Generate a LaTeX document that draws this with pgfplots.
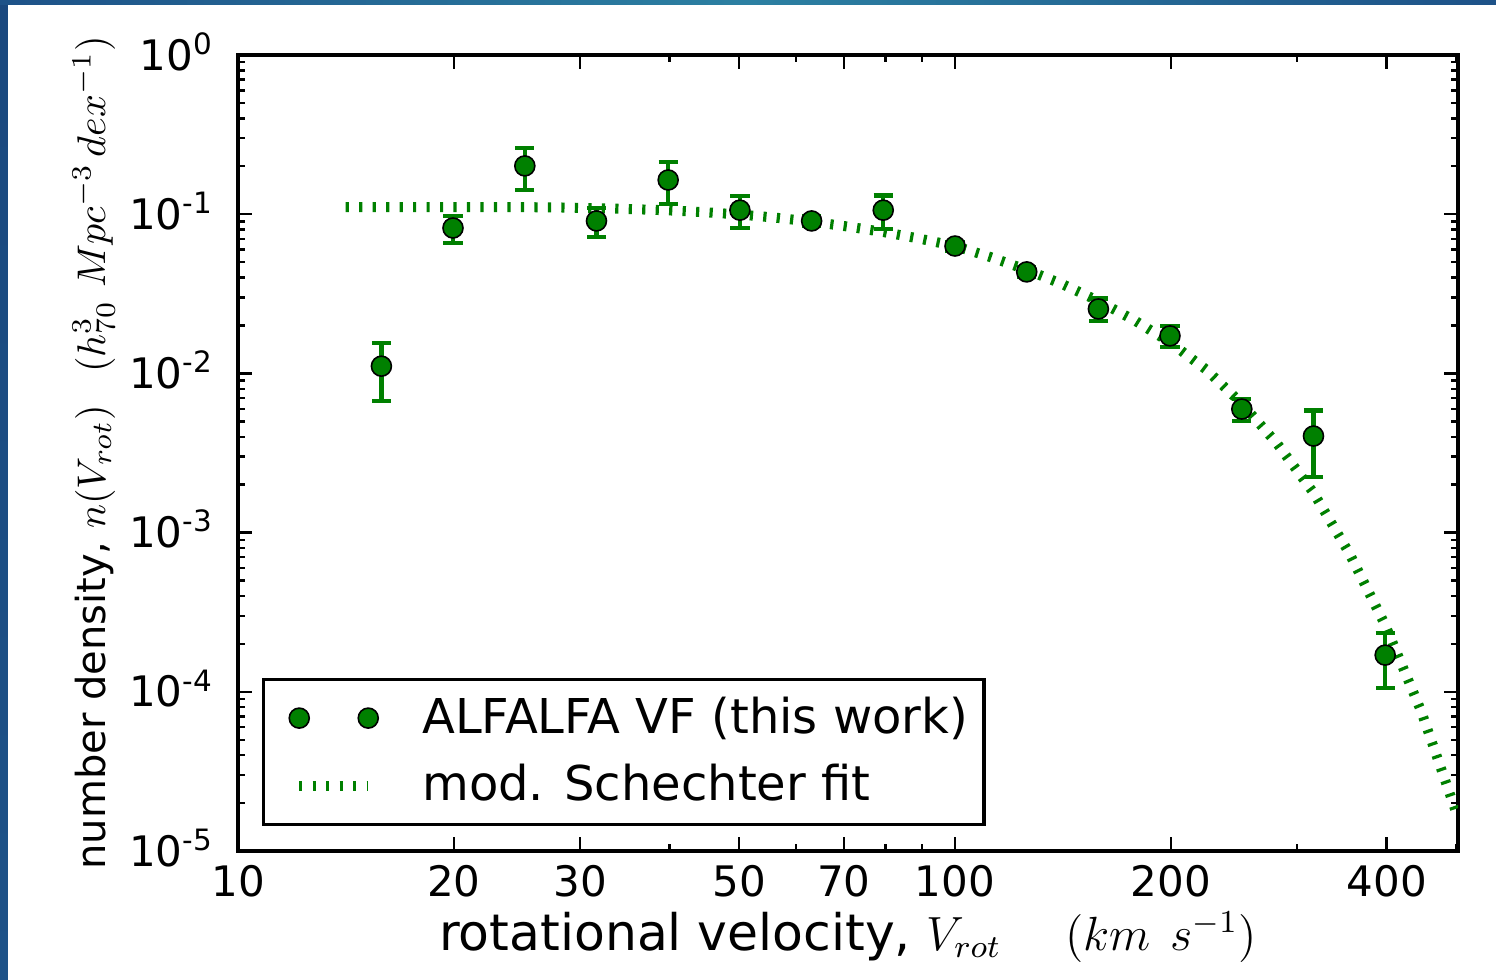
\documentclass[border=0pt]{standalone}
\usepackage[no-math]{fontspec}
\setmainfont{DejaVu Sans}
\usepackage{pgfplots}
\pgfplotsset{compat=1.18}
\definecolor{mygreen}{RGB}{0,128,0}
\definecolor{slideblue}{RGB}{30,82,136}
\definecolor{slidedark}{RGB}{26,72,126}
\definecolor{slideteal}{RGB}{44,128,162}

\begin{document}
\begin{tikzpicture}
\path[use as bounding box] (0,0) rectangle (374pt,245pt);
% slide background behind the figure
\shade[top color=slidedark, bottom color=slideblue] (0,0) rectangle (2pt,245pt);
\shade[left color=slideblue, right color=slideblue, middle color=slideteal] (0,243.75pt) rectangle (374pt,245pt);
\fill[white] (2pt,0) rectangle (374pt,243.75pt);

\begin{axis}[
    at={(59.5pt,32.25pt)}, anchor=south west,
    scale only axis, width=305pt, height=199pt,
    xmode=log, ymode=log,
    xmin=10, xmax=503, ymin=1e-5, ymax=1,
    xtick={10,20,30,50,70,100,200,400},
    xticklabels={10,20,30,50,70,100,200,400},
    minor xtick={40,60,80,90,300,500},
    ytick={1e-5,1e-4,1e-3,1e-2,1e-1,1},
    yticklabels={10\textsuperscript{-5},10\textsuperscript{-4},10\textsuperscript{-3},
                 10\textsuperscript{-2},10\textsuperscript{-1},10\textsuperscript{0}},
    minor ytick={2e-5,3e-5,4e-5,5e-5,6e-5,7e-5,8e-5,9e-5,
                 2e-4,3e-4,4e-4,5e-4,6e-4,7e-4,8e-4,9e-4,
                 2e-3,3e-3,4e-3,5e-3,6e-3,7e-3,8e-3,9e-3,
                 2e-2,3e-2,4e-2,5e-2,6e-2,7e-2,8e-2,9e-2,
                 0.2,0.3,0.4,0.5,0.6,0.7,0.8,0.9},
    tick align=inside,
    major tick length=3.5pt, minor tick length=1.75pt,
    every tick/.style={black, line width=0.6pt},
    axis line style={line width=1pt},
    xticklabel style={font=\fontsize{10.5}{12}\selectfont},
    yticklabel style={font=\fontsize{10.5}{12}\selectfont, anchor=base east, yshift=-3.8pt, xshift=-2.5pt},
    xlabel={rotational velocity, {\fontsize{12}{14}\selectfont$V_{rot}$\hspace{16pt}$(km\hspace{5pt}s^{-1})$}},
    ylabel={number density, $n(V_{rot})$\hspace{8pt}$(h^3_{70}\ Mpc^{-3}\,dex^{-1})$},
    xlabel style={font=\fontsize{12.6}{14}\selectfont, at={(axis description cs:0.5,-0.1244)}, anchor=base},
    ylabel style={font=\fontsize{10}{12}\selectfont, at={(axis description cs:-0.109,0.5)}, anchor=base},
    legend cell align=left,
    legend style={at={(axis description cs:0.0197,0.0314)}, anchor=south west,
        draw=black, line width=0.8pt, font=\fontsize{12}{14}\selectfont,
        inner xsep=4pt, inner ysep=2.4pt, row sep=2.25pt,
        nodes={inner xsep=0pt},
        /tikz/every odd column/.append style={column sep=11pt}},
]

% modified Schechter fit
\addplot[mygreen, line width=2.5pt, dash pattern=on 0.8pt off 2.57pt, forget plot]
coordinates {
 (14.13,0.1109) (15.85,0.1109) (17.78,0.1109) (19.95,0.1109) (22.39,0.1109)
 (25.12,0.1107) (28.18,0.1102) (31.62,0.1091) (35.48,0.1076) (39.81,0.1057)
 (44.67,0.1030) (50.12,0.0995) (56.23,0.0951) (63.10,0.0897) (70.79,0.0837)
 (79.43,0.0773) (89.13,0.0703) (100,0.0631) (112.2,0.0537) (125.9,0.0447)
 (141.3,0.0363) (158.5,0.0285) (177.8,0.0216) (199.5,0.01567) (223.9,0.01059)
 (251.2,0.00646) (281.8,0.00359) (316.2,0.00178) (354.8,0.000741) (398.1,0.000263)
 (446.7,7.59e-5) (501.2,1.70e-5)
};

% ALFALFA velocity function
\addplot[only marks, mark=*, mark size=2.5pt,
    mark options={fill=mygreen, draw=black, line width=0.4pt},
    legend image code/.code={
      \path (-4.5pt,0pt);
      \draw plot[only marks, mark=*, mark size=2.5pt,
        mark options={fill=mygreen, draw=black, line width=0.4pt}]
        coordinates {(0pt,0pt) (17.25pt,0pt)};},
    error bars/.cd, y dir=both, y explicit,
    error bar style={mygreen, line width=1.05pt},
    error mark options={mygreen, mark size=2.4pt, line width=1.05pt, rotate=90}]
coordinates {
 (15.85,0.0111)  +- (0,0.0044)
 (19.95,0.0819)  +- (0,0.0158)
 (25.12,0.201)   +- (0,0.059)
 (31.62,0.0907)  +- (0,0.019)
 (39.81,0.164)   +- (0,0.048)
 (50.12,0.106)   +- (0,0.024)
 (63.10,0.0907)  +- (0,0.006)
 (79.43,0.106)   +- (0,0.025)
 (100,0.0631)    +- (0,0.004)
 (125.9,0.0434)  +- (0,0.003)
 (158.5,0.0254)  +- (0,0.0041)
 (199.5,0.0172)  +- (0,0.0026)
 (251.2,0.00597) +- (0,0.00097)
 (316.2,0.00404) +- (0,0.0018)
 (398.1,0.000170) +- (0,0.000064)
};
\addlegendentry{ALFALFA VF (this work)}

\addlegendimage{legend image code/.code={
    \draw[mygreen, line width=2.5pt, dash pattern=on 0.8pt off 2.57pt] (0pt,0pt) -- (17.25pt,0pt);}}
\addlegendentry{mod. Schechter fit}
\end{axis}
\end{tikzpicture}
\end{document}
